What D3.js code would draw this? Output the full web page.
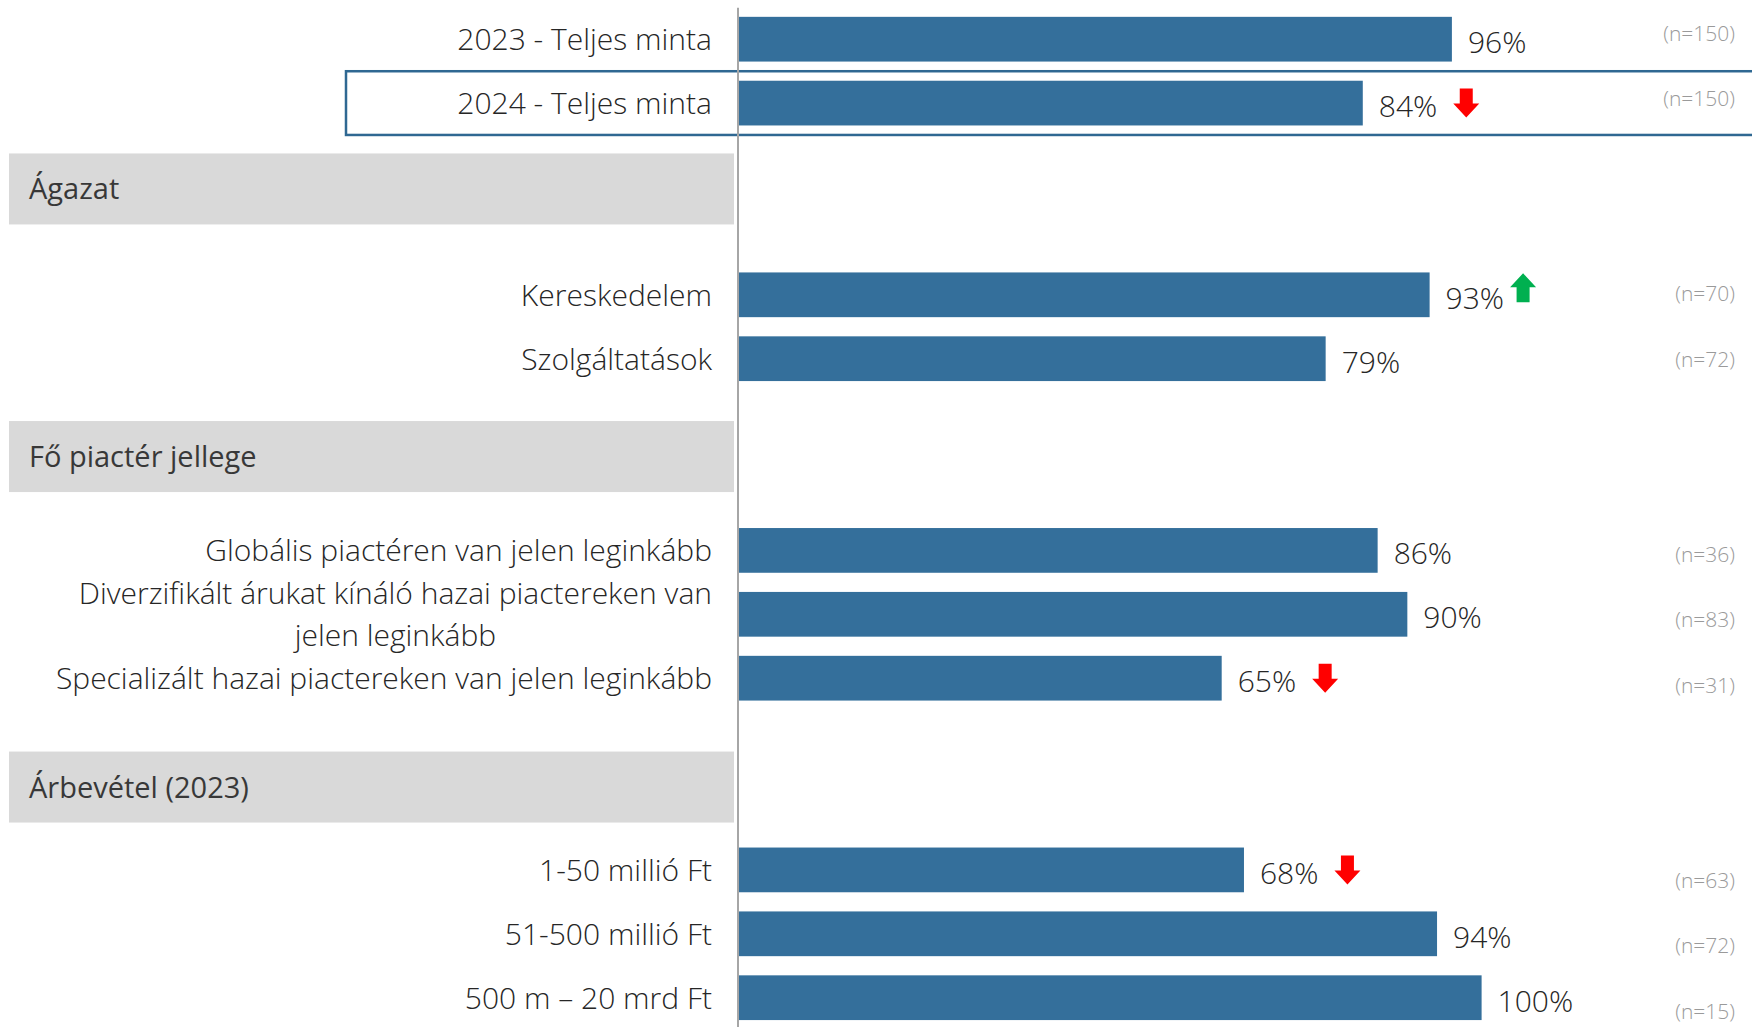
<!DOCTYPE html>
<html>
<head>
<meta charset="utf-8">
<script src="https://cdn.jsdelivr.net/npm/d3@7"></script>
<style>
  html, body { margin: 0; padding: 0; background: #fff; }
  svg { display: block; }
  text { font-family: "Open Sans", "Noto Sans", sans-serif; }
</style>
</head>
<body>
<svg id="chart" width="1752" height="1027"></svg>
<script>
// Share of companies per segment (%), with sample size and significant change vs. total
const categories = [
  "2023 - Teljes minta",
  "2024 - Teljes minta",
  "Kereskedelem",
  "Szolgáltatások",
  "Globális piactéren van jelen leginkább",
  "Diverzifikált árukat kínáló hazai piactereken van jelen leginkább",
  "Specializált hazai piactereken van jelen leginkább",
  "1-50 millió Ft",
  "51-500 millió Ft",
  "500 m – 20 mrd Ft"
];
const values = [96, 84, 93, 79, 86, 90, 65, 68, 94, 100];
const sampleSizes = [150, 150, 70, 72, 36, 83, 31, 63, 72, 15];
const groups = [null, null, "Ágazat", "Ágazat",
  "Fő piactér jellege", "Fő piactér jellege", "Fő piactér jellege",
  "Árbevétel (2023)", "Árbevétel (2023)", "Árbevétel (2023)"];
const trends = [null, "down", "up", null, null, null, "down", "down", null, null];
const highlighted = "2024 - Teljes minta";

const W = 1752, H = 1027;
const svg = d3.select("#chart");

// Row slots: each section title takes two empty slots ahead of its rows
const slotKeys = [];
categories.forEach((c, i) => {
  if (groups[i] && groups[i] !== groups[i - 1]) {
    slotKeys.push("title:" + groups[i] + ":a", "title:" + groups[i] + ":b");
  }
  slotKeys.push(c);
});

const y = d3.scaleBand()
  .domain(slotKeys)
  .range([7.25, 1029.65])
  .paddingInner(0.3)
  .paddingOuter(0.15);
const bw = y.bandwidth();
const yc = k => y(k) + bw / 2;

const x = d3.scaleLinear().domain([0, 100]).range([739, 1481.6]);

// sample-size column sits on its own slightly wider grid
const nY = d3.scaleLinear().domain([0, slotKeys.length - 1]).range([33, 1011]);

const labelRight = 712;
const labelFs = 30, valueFs = 30, nFs = 21, titleFs = 29;

// Highlight frame around the current total row
svg.append("rect")
  .attr("x", 346)
  .attr("y", y(highlighted) - 9.5)
  .attr("width", W)
  .attr("height", bw + 19)
  .attr("fill", "none")
  .attr("stroke", "#2f6892")
  .attr("stroke-width", 2.5);

// Section title bands
const titles = Array.from(new Set(groups.filter(g => g)));
const titleNudge = [-10, 2, 13];
const titleH = 71;
const tg = svg.append("g").selectAll("g")
  .data(titles)
  .join("g")
  .attr("transform", (t, i) => {
    const cy = (y("title:" + t + ":a") + y("title:" + t + ":b") + bw) / 2 + titleNudge[i];
    return `translate(0,${cy})`;
  });
tg.append("rect")
  .attr("x", 9).attr("y", -titleH / 2)
  .attr("width", 725).attr("height", titleH)
  .attr("fill", "#d9d9d9");
tg.append("text")
  .attr("x", 29)
  .attr("y", 0.36 * titleFs)
  .attr("font-size", titleFs)
  .attr("font-weight", 400)
  .attr("fill", "#383838")
  .text(t => t);

// Bars
svg.append("g").selectAll("rect")
  .data(categories)
  .join("rect")
  .attr("x", x(0))
  .attr("y", d => y(d))
  .attr("width", (d, i) => x(values[i]) - x(0))
  .attr("height", bw)
  .attr("fill", "#346f9b");

// Category labels (long ones wrap, lines centred inside the label block)
const maxLabelW = 690;
const lg = svg.append("g");
categories.forEach((c, i) => {
  const t = lg.append("text")
    .attr("font-size", labelFs)
    .attr("font-weight", 300)
    .attr("fill", "#262626");
  const words = c.split(" ");
  const lines = [];
  let cur = [];
  const probe = t.append("tspan");
  words.forEach(w => {
    const test = cur.concat([w]).join(" ");
    probe.text(test);
    if (probe.node().getComputedTextLength() > maxLabelW && cur.length) {
      lines.push(cur.join(" "));
      cur = [w];
    } else {
      cur.push(w);
    }
  });
  lines.push(cur.join(" "));
  const widths = lines.map(l => { probe.text(l); return probe.node().getComputedTextLength(); });
  probe.remove();
  const blockW = d3.max(widths);
  const lineH = 42.5;
  const c0 = yc(c) - (lines.length - 1) * lineH / 2;
  lines.forEach((l, j) => {
    t.append("tspan")
      .attr("x", labelRight - blockW / 2)
      .attr("y", c0 + j * lineH + 0.36 * labelFs)
      .attr("text-anchor", "middle")
      .text(l);
  });
});

// Value labels and change markers
const vg = svg.append("g");
categories.forEach((c, i) => {
  const vx = x(values[i]) + 16;
  const vt = vg.append("text")
    .attr("x", vx)
    .attr("y", yc(c) + 3 + 0.36 * valueFs)
    .attr("font-size", valueFs)
    .attr("font-weight", 300)
    .attr("fill", "#262626")
    .text(values[i] + "%");
  const tr = trends[i];
  if (!tr) return;
  const tw = vt.node().getComputedTextLength();
  const aw = 26, ah = 29, sw = 13, sh = 15;
  const p = d3.path();
  if (tr === "down") {
    p.moveTo(-sw / 2, -ah / 2); p.lineTo(sw / 2, -ah / 2); p.lineTo(sw / 2, -ah / 2 + sh);
    p.lineTo(aw / 2, -ah / 2 + sh); p.lineTo(0, ah / 2); p.lineTo(-aw / 2, -ah / 2 + sh);
    p.lineTo(-sw / 2, -ah / 2 + sh); p.closePath();
  } else {
    p.moveTo(-sw / 2, ah / 2); p.lineTo(sw / 2, ah / 2); p.lineTo(sw / 2, ah / 2 - sh);
    p.lineTo(aw / 2, ah / 2 - sh); p.lineTo(0, -ah / 2); p.lineTo(-aw / 2, ah / 2 - sh);
    p.lineTo(-sw / 2, ah / 2 - sh); p.closePath();
  }
  const gap = tr === "down" ? 16 : 6;
  const cy = tr === "down" ? yc(c) : yc(c) - 7;
  vg.append("path")
    .attr("d", p.toString())
    .attr("transform", `translate(${vx + tw + gap + aw / 2},${cy})`)
    .attr("fill", tr === "down" ? "#ff0000" : "#00b050");
});

// Sample sizes
svg.append("g").selectAll("text")
  .data(categories)
  .join("text")
  .attr("x", 1735)
  .attr("y", d => nY(slotKeys.indexOf(d)) + 0.36 * nFs)
  .attr("text-anchor", "end")
  .attr("font-size", nFs)
  .attr("font-weight", 300)
  .attr("fill", "#9a9a9a")
  .text((d, i) => `(n=${sampleSizes[i]})`);

// Baseline
const axis = svg.append("g")
  .attr("transform", "translate(737.5,0)")
  .call(d3.axisLeft(y).tickSize(0).tickSizeOuter(0).tickFormat(""));
axis.selectAll(".tick").remove();
axis.select(".domain").attr("stroke", "#a6a6a6").attr("stroke-width", 2);
</script>
</body>
</html>
